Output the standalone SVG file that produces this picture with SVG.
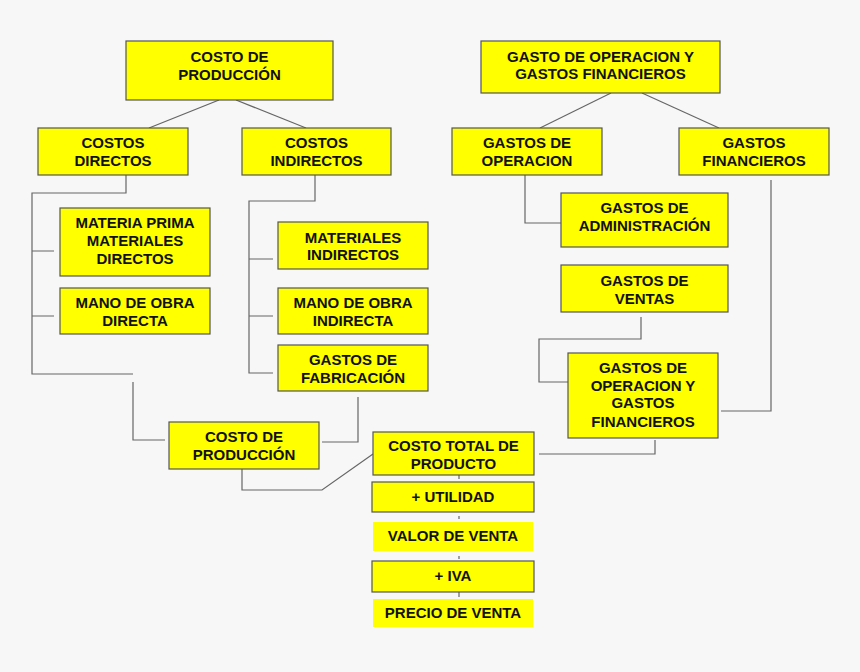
<svg xmlns="http://www.w3.org/2000/svg" width="860" height="672" viewBox="0 0 860 672">
<style>
.b{fill:#ffff00;stroke:#555;stroke-width:1.2}
.nb{fill:#ffff00;stroke:none}
text{font-family:"Liberation Sans",Arial,sans-serif;font-weight:bold;font-size:15px;fill:#111;text-anchor:middle}
.c{fill:none;stroke:#666;stroke-width:1.2}
</style>
<rect x="0" y="0" width="860" height="672" fill="#f7f7f7"/>
<g id="connectors" class="c">
<path d="M219,100 L149,128"/>
<path d="M236,100 L306,128"/>
<path d="M126,175 V193 H32 V374 H133"/>
<path d="M32,251 H54 M32,316 H54"/>
<path d="M133,382 V440 H165"/>
<path d="M315,175 V201 H249 V373 H273"/>
<path d="M249,259 H273 M249,316 H273"/>
<path d="M358,397 V442 H322"/>
<path d="M242,469 V490 H322 L373,454"/>
<path d="M611,93 L540,128"/>
<path d="M642,93 L719,128"/>
<path d="M525,175 V223 H561"/>
<path d="M771,180 V411 H721"/>
<path d="M641,317 V339 H539 V382 H568"/>
<path d="M539,454 H655 V440"/>
<path d="M459,475 V479 M459,516 V519 M459,556 V559 M459,592 V597"/>
</g>
<g id="costo-produccion-top"><rect class="b" x="126" y="41" width="207" height="59"/><text x="229.5" y="62">COSTO DE</text><text x="229.5" y="80">PRODUCCIÓN</text></g>
<g id="costos-directos"><rect class="b" x="38" y="128" width="150" height="47"/><text x="113" y="148">COSTOS</text><text x="113" y="166">DIRECTOS</text></g>
<g id="costos-indirectos"><rect class="b" x="242" y="128" width="149" height="47"/><text x="316.5" y="148">COSTOS</text><text x="316.5" y="166">INDIRECTOS</text></g>
<g id="materia-prima"><rect class="b" x="60" y="208" width="150" height="68"/><text x="135" y="228">MATERIA PRIMA</text><text x="135" y="246">MATERIALES</text><text x="135" y="264">DIRECTOS</text></g>
<g id="mano-obra-directa"><rect class="b" x="60" y="288" width="150" height="46"/><text x="135" y="308">MANO DE OBRA</text><text x="135" y="326">DIRECTA</text></g>
<g id="materiales-indirectos"><rect class="b" x="278" y="222" width="150" height="47"/><text x="353" y="243">MATERIALES</text><text x="353" y="260">INDIRECTOS</text></g>
<g id="mano-obra-indirecta"><rect class="b" x="278" y="288" width="150" height="46"/><text x="353" y="308">MANO DE OBRA</text><text x="353" y="326">INDIRECTA</text></g>
<g id="gastos-fabricacion"><rect class="b" x="278" y="345" width="150" height="46"/><text x="353" y="365">GASTOS DE</text><text x="353" y="383">FABRICACIÓN</text></g>
<g id="costo-produccion-bottom"><rect class="b" x="169" y="422" width="150" height="47"/><text x="244" y="442">COSTO DE</text><text x="244" y="460">PRODUCCIÓN</text></g>
<g id="gasto-operacion-top"><rect class="b" x="481" y="41" width="239" height="52"/><text x="600.5" y="62">GASTO DE OPERACION Y</text><text x="600.5" y="79">GASTOS FINANCIEROS</text></g>
<g id="gastos-operacion"><rect class="b" x="452" y="128" width="150" height="47"/><text x="527" y="148">GASTOS DE</text><text x="527" y="166">OPERACION</text></g>
<g id="gastos-financieros"><rect class="b" x="679" y="128" width="150" height="47"/><text x="754" y="148">GASTOS</text><text x="754" y="166">FINANCIEROS</text></g>
<g id="gastos-administracion"><rect class="b" x="561" y="193" width="167" height="54"/><text x="644.5" y="213">GASTOS DE</text><text x="644.5" y="231">ADMINISTRACIÓN</text></g>
<g id="gastos-ventas"><rect class="b" x="561" y="265" width="167" height="47"/><text x="644.5" y="286">GASTOS DE</text><text x="644.5" y="304">VENTAS</text></g>
<g id="gastos-operacion-financieros"><rect class="b" x="568" y="353" width="150" height="85"/><text x="643" y="373">GASTOS DE</text><text x="643" y="391">OPERACION Y</text><text x="643" y="408">GASTOS</text><text x="643" y="427">FINANCIEROS</text></g>
<g id="costo-total"><rect class="b" x="373" y="432" width="161" height="43"/><text x="453.5" y="451">COSTO TOTAL DE</text><text x="453.5" y="469">PRODUCTO</text></g>
<g id="utilidad"><rect class="b" x="372" y="482" width="162" height="30"/><text x="453" y="502">+ UTILIDAD</text></g>
<g id="valor-venta"><rect class="nb" x="373" y="522" width="160" height="29"/><text x="453" y="541">VALOR DE VENTA</text></g>
<g id="iva"><rect class="b" x="372" y="561" width="162" height="31"/><text x="453" y="581">+ IVA</text></g>
<g id="precio-venta"><rect class="nb" x="373" y="599" width="160" height="28"/><text x="453" y="618">PRECIO DE VENTA</text></g>
</svg>
